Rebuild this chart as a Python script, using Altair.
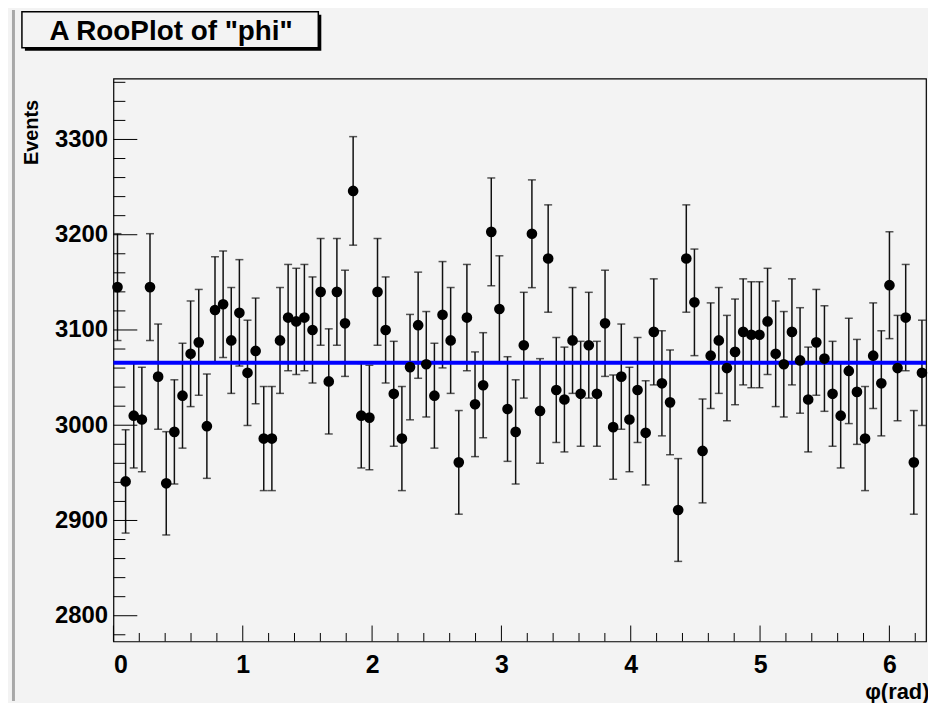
import altair as alt
import pandas as pd
import numpy as np

# ---- data ----
counts = [3145, 2941, 3010, 3006, 3145, 3051, 2939, 2993, 3031, 3075,
          3087, 2999, 3121, 3127, 3089, 3118, 3055, 3078, 2986, 2986,
          3089, 3113, 3109, 3113, 3100, 3140, 3046, 3140, 3107, 3246,
          3010, 3008, 3140, 3100, 3033, 2986, 3061, 3105, 3064, 3031,
          3116, 3089, 2961, 3113, 3022, 3042, 3203, 3122, 3017, 2993,
          3084, 3201, 3015, 3175, 3037, 3027, 3089, 3033, 3084, 3033,
          3107, 2998, 3051, 3006, 3037, 2992, 3098, 3044, 3024, 2911,
          3175, 3129, 2973, 3073, 3089, 3060, 3077, 3098, 3095, 3095,
          3109, 3075, 3064, 3098, 3068, 3027, 3087, 3070, 3033, 3010,
          3057, 3035, 2986, 3073, 3044, 3147, 3060, 3113, 2961, 3055]
phi_min, phi_max = 0.0, 2 * np.pi
n_bins = 100
pdf_x = [phi_min, phi_max]
pdf_y = [3065.5, 3065.5]
y_major = [2800, 2900, 3000, 3100, 3200, 3300]
y_minor = [v for v in range(2780, 3361, 20) if v % 100 != 0]
x_major = [0, 1, 2, 3, 4, 5, 6]
x_minor = [round(0.2 * k, 1) for k in range(1, 32) if k % 5 != 0]

edges = np.linspace(phi_min, phi_max, n_bins + 1)
df = pd.DataFrame({
    "x": (edges[:-1] + edges[1:]) / 2,
    "xlo": edges[:-1],
    "xhi": edges[1:],
    "n": counts,
})
pdf_df = pd.DataFrame({"x": pdf_x, "y": pdf_y})

FONT = "Liberation Sans"
BG = "#f3f3f3"
W, H = 817, 566

xs = alt.Scale(domain=[phi_min, phi_max], nice=False, zero=False)
ys = alt.Scale(domain=[2773, 3364], nice=False, zero=False)

base = alt.Chart(df).transform_calculate(
    lo="datum.n - sqrt(datum.n)", hi="datum.n + sqrt(datum.n)"
)

ebar = base.mark_rule(color="#111", strokeWidth=1.5).encode(
    x=alt.X("x:Q", scale=xs, axis=None),
    y=alt.Y("lo:Q", scale=ys, axis=None),
    y2="hi:Q",
)
cap_lo = base.mark_tick(orient="horizontal", size=8, thickness=1.5, color="#111").encode(
    x=alt.X("x:Q", scale=xs, axis=None),
    y=alt.Y("lo:Q", scale=ys, axis=None),
)
cap_hi = base.mark_tick(orient="horizontal", size=8, thickness=1.5, color="#111").encode(
    x=alt.X("x:Q", scale=xs, axis=None),
    y=alt.Y("hi:Q", scale=ys, axis=None),
)
xerr = base.mark_rule(color="#111", strokeWidth=1.5).encode(
    x=alt.X("xlo:Q", scale=xs, axis=None),
    x2="xhi:Q",
    y=alt.Y("n:Q", scale=ys, axis=None),
)

curve = alt.Chart(pdf_df).mark_line(color="#0000ff", strokeWidth=4).encode(
    x=alt.X("x:Q", scale=xs, axis=None),
    y=alt.Y("y:Q", scale=ys, axis=None),
)

points = base.mark_circle(size=115, color="black", opacity=1).encode(
    x=alt.X("x:Q", scale=xs, axis=alt.Axis(
        values=x_major, format="d", ticks=False, domain=False, grid=False,
        labelPadding=11, labelFont=FONT, labelFontSize=25, labelFontWeight="bold",
        labelColor="black",
        title="φ(rad)", titleFont=FONT, titleFontSize=22, titleFontWeight="bold",
        titleColor="black", titleX=W + 3, titleY=57, titleAlign="right",
        titleBaseline="alphabetic",
    )),
    y=alt.Y("n:Q", scale=ys, axis=alt.Axis(
        values=y_major, format="d", ticks=False, domain=False, grid=False,
        labelPadding=6, labelFont=FONT, labelFontSize=24, labelFontWeight="bold",
        labelColor="black",
        title="Events", titleFont=FONT, titleFontSize=20, titleFontWeight="bold",
        titleColor="black", titleX=-76, titleY=21, titleAlign="right",
        titleBaseline="alphabetic", titleAngle=270,
    )),
)

ymaj = alt.Chart(pd.DataFrame({"v": y_major})).mark_rule(color="black", strokeWidth=1).encode(
    y=alt.Y("v:Q", scale=ys, axis=None), x=alt.value(0), x2=alt.value(24))
ymin = alt.Chart(pd.DataFrame({"v": y_minor})).mark_rule(color="black", strokeWidth=1).encode(
    y=alt.Y("v:Q", scale=ys, axis=None), x=alt.value(0), x2=alt.value(12))
xmaj = alt.Chart(pd.DataFrame({"v": x_major})).mark_rule(color="black", strokeWidth=1).encode(
    x=alt.X("v:Q", scale=xs, axis=None), y=alt.value(H), y2=alt.value(H - 16))
xmin = alt.Chart(pd.DataFrame({"v": x_minor})).mark_rule(color="black", strokeWidth=1).encode(
    x=alt.X("v:Q", scale=xs, axis=None), y=alt.value(H), y2=alt.value(H - 8.5))

one = pd.DataFrame({"a": [0]})
shadow = alt.Chart(one).mark_rect(color="black").encode(
    x=alt.value(-89), x2=alt.value(209), y=alt.value(-64), y2=alt.value(-28))
box = alt.Chart(one).mark_rect(fill=BG, stroke="black", strokeWidth=1.5).encode(
    x=alt.value(-92), x2=alt.value(206), y=alt.value(-67), y2=alt.value(-31))
title_txt = alt.Chart(one).mark_text(
    text='A RooPlot of "phi"', font=FONT, fontSize=28, fontWeight="bold",
    color="black", align="center", baseline="alphabetic").encode(
    x=alt.value(58), y=alt.value(-39))
left_line = alt.Chart(one).mark_rule(color="#a8a8a8", strokeWidth=3).encode(
    x=alt.value(-100.5), y=alt.value(-69), y2=alt.value(H + 60))

chart = alt.layer(
    ebar, cap_lo, cap_hi, xerr, curve, points,
    ymaj, ymin, xmaj, xmin,
    left_line, shadow, box, title_txt,
).resolve_axis(
    x="independent", y="independent"
).properties(
    width=W, height=H,
    autosize=alt.AutoSizeParams(type="none"),
    padding={"left": 106, "top": 69, "right": 2, "bottom": 60},
    background=BG,
).configure_view(
    stroke="black", strokeWidth=1.2, fill=BG,
)

chart.save("out.html", embed_options={"renderer": "svg", "actions": False})
